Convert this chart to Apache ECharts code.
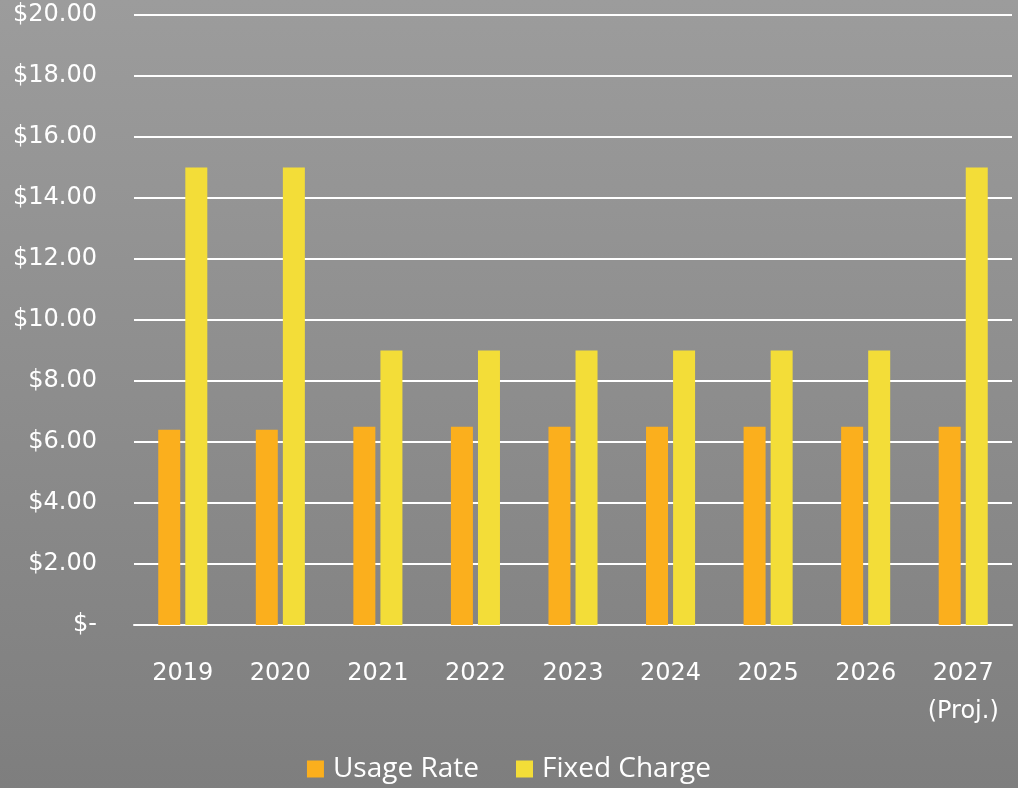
<!DOCTYPE html>
<html>
<head>
<meta charset="utf-8">
<script src="https://cdn.jsdelivr.net/npm/echarts@6/dist/echarts.min.js"></script>
<style>
html,body{margin:0;padding:0;}
#c{width:1018px;height:788px;background:linear-gradient(to bottom,#9c9c9c,#7e7e7e);}
</style>
</head>
<body>
<div id="c"></div>
<script>
const categories = ['2019','2020','2021','2022','2023','2024','2025','2026','2027\n(Proj.)'];
const usageRate = [6.4, 6.4, 6.5, 6.5, 6.5, 6.5, 6.5, 6.5, 6.5];
const fixedCharge = [15, 15, 9, 9, 9, 9, 9, 9, 15];
const seriesNames = ['Usage Rate', 'Fixed Charge'];

const chart = echarts.init(document.getElementById('c'));
chart.setOption({
  backgroundColor: 'transparent',
  textStyle: { fontFamily: 'DejaVu Sans' },
  grid: { left: 134, right: 6, top: 15, bottom: 163, containLabel: false },
  legend: {
    data: seriesNames,
    bottom: 0,
    left: 'center',
    itemWidth: 17, itemHeight: 17, itemGap: 37,
    icon: 'rect',
    textStyle: { color: '#ffffff', fontSize: 28, fontFamily: 'Open Sans', padding: [0, 0, 0, 4] }
  },
  xAxis: {
    type: 'category',
    data: categories,
    axisLine: { show: true, lineStyle: { color: '#ffffff', width: 2 } },
    axisTick: { show: false },
    axisLabel: { color: '#ffffff', fontSize: 24, margin: 30, lineHeight: 38, fontFamily: 'DejaVu Sans', interval: 0, hideOverlap: false, showMinLabel: true, showMaxLabel: true }
  },
  yAxis: {
    type: 'value',
    min: 0, max: 20, interval: 2,
    axisLine: { show: false },
    axisTick: { show: false },
    splitLine: { lineStyle: { color: '#ffffff', width: 2 } },
    axisLabel: {
      color: '#ffffff', fontSize: 24, margin: 37, fontFamily: 'DejaVu Sans',
      formatter: v => v === 0 ? '$-' : '$' + v.toFixed(2)
    }
  },
  series: [
    { name: seriesNames[0], type: 'bar', data: usageRate, barWidth: 22, barGap: '23%',
      itemStyle: { color: '#fbaf1d' } },
    { name: seriesNames[1], type: 'bar', data: fixedCharge, barWidth: 22,
      itemStyle: { color: '#f3dd38' } }
  ]
});
</script>
</body>
</html>
